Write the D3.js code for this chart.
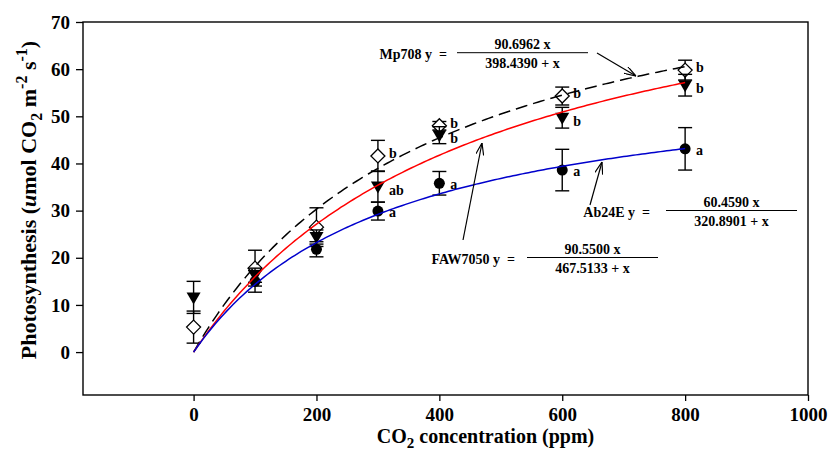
<!DOCTYPE html>
<html>
<head>
<meta charset="utf-8">
<script src="https://cdn.jsdelivr.net/npm/d3@7"></script>
<style>
  body { margin: 0; background: #fff; }
  text { font-family: "Liberation Serif", "Times New Roman", serif; font-weight: bold; }
</style>
</head>
<body>
<script>
// canvas size
const width = 829;
const height = 454;

// data
const concentrations = [0, 100, 200, 300, 400, 600, 800];
const mp708Mean = [5.3, 17.8, 26.5, 41.6, 48.0, 54.3, 59.8];
const mp708Err = [3.4, 3.8, 4.1, 3.3, 0.9, 1.9, 2.1];
const faw7050Mean = [11.6, 16.3, 24.4, 35.1, 46.0, 49.7, 56.6];
const faw7050Err = [3.4, 1.5, 1.5, 3.3, 1.8, 2.2, 2.3];
const ab24eMean = [null, 15.0, 21.8, 29.9, 35.8, 38.6, 43.1];
const ab24eErr = [null, 2.3, 1.6, 1.9, 2.5, 4.4, 4.5];
const mp708Letters = ['', '', '', 'b', 'b', 'b', 'b'];
const faw7050Letters = ['', '', '', 'ab', 'b', 'b', 'b'];
const ab24eLetters = ['', '', '', 'a', 'a', 'a', 'a'];

// fitted curves y = a x / (k + x)
const fitNames = ['Mp708', 'FAW7050', 'Ab24E'];
const fitA = [90.6962, 90.55, 60.459];
const fitK = [398.439, 467.5133, 320.8901];
const fitATexts = ['90.6962 x', '90.5500 x', '60.4590 x'];
const fitKTexts = ['398.4390 + x', '467.5133 + x', '320.8901 + x'];

const xTicks = [0, 200, 400, 600, 800, 1000];
const yTicks = [0, 10, 20, 30, 40, 50, 60, 70];

const margin = { left: 83, right: 21, top: 22, bottom: 59 };

const svg = d3
  .select('body')
  .append('svg')
  .attr('width', width)
  .attr('height', height);

const x = d3
  .scaleLinear()
  .domain([-180, 1000])
  .range([margin.left, width - margin.right]);

const y = d3
  .scaleLinear()
  .domain([-9.1, 70])
  .range([height - margin.bottom, margin.top]);

// axes
const xAxis = svg
  .append('g')
  .attr('transform', 'translate(0,' + (height - margin.bottom) + ')')
  .call(
    d3.axisBottom(x).tickValues(xTicks).tickFormat(d3.format('d')).tickSize(6).tickPadding(7)
  );

const yAxis = svg
  .append('g')
  .attr('transform', 'translate(' + margin.left + ',0)')
  .call(d3.axisLeft(y).tickValues(yTicks).tickSize(7).tickPadding(6));

[xAxis, yAxis].forEach(function(g) {
  g.select('.domain').remove();
  g.selectAll('line').attr('stroke', '#000').attr('stroke-width', 1.3);
  g.selectAll('text')
    .attr('fill', '#000')
    .style('font-size', '19px')
    .style('font-family', '"Liberation Serif", serif')
    .style('font-weight', 'bold');
});

// frame
svg
  .append('rect')
  .attr('x', margin.left)
  .attr('y', margin.top)
  .attr('width', width - margin.left - margin.right)
  .attr('height', height - margin.top - margin.bottom)
  .attr('fill', 'none')
  .attr('stroke', '#000')
  .attr('stroke-width', 1.4);

// axis titles
const xTitle = svg
  .append('text')
  .attr('x', (x(-180) + x(1000)) / 2 + 40)
  .attr('y', 443)
  .attr('text-anchor', 'middle')
  .style('font-size', '20px');
xTitle.append('tspan').text('CO');
xTitle.append('tspan').attr('dy', 5).style('font-size', '15px').text('2');
xTitle.append('tspan').attr('dy', -5).text(' concentration (ppm)');

const yTitle = svg
  .append('text')
  .attr('transform', 'translate(36,' + 200 + ') rotate(-90)')
  .attr('text-anchor', 'middle')
  .style('font-size', '22px');
yTitle.append('tspan').text('Photosynthesis (');
yTitle.append('tspan').style('font-style', 'italic').text('u');
yTitle.append('tspan').text('mol CO');
yTitle.append('tspan').attr('dy', 6).style('font-size', '16px').text('2');
yTitle.append('tspan').attr('dy', -6).text(' m');
yTitle.append('tspan').attr('dy', -9).style('font-size', '16px').text('-2');
yTitle.append('tspan').attr('dy', 9).text(' s');
yTitle.append('tspan').attr('dy', -9).style('font-size', '16px').text('-1');
yTitle.append('tspan').attr('dy', 9).text(')');

// series definitions
const series = [
  { mean: mp708Mean, err: mp708Err, letters: mp708Letters, shape: 'diamond', nudge: -2 },
  { mean: faw7050Mean, err: faw7050Err, letters: faw7050Letters, shape: 'triangle', nudge: 4 },
  { mean: ab24eMean, err: ab24eErr, letters: ab24eLetters, shape: 'circle', nudge: 2 }
];

const cap = 7;

series.forEach(function(s) {
  const pts = concentrations
    .map(function(c, i) {
      return { c: c, m: s.mean[i], e: s.err[i], l: s.letters[i] };
    })
    .filter(function(d) {
      return d.m !== null;
    });

  const g = svg.append('g');

  // error bars
  const bars = g
    .selectAll('.bar')
    .data(pts)
    .enter()
    .append('g')
    .attr('stroke', '#000')
    .attr('stroke-width', 1.4);
  bars
    .append('line')
    .attr('x1', d => x(d.c))
    .attr('x2', d => x(d.c))
    .attr('y1', d => y(d.m - d.e))
    .attr('y2', d => y(d.m + d.e));
  bars
    .append('line')
    .attr('x1', d => x(d.c) - cap)
    .attr('x2', d => x(d.c) + cap)
    .attr('y1', d => y(d.m + d.e))
    .attr('y2', d => y(d.m + d.e));
  bars
    .append('line')
    .attr('x1', d => x(d.c) - cap)
    .attr('x2', d => x(d.c) + cap)
    .attr('y1', d => y(d.m - d.e))
    .attr('y2', d => y(d.m - d.e));

  // markers
  const marks = g
    .selectAll('.mark')
    .data(pts)
    .enter()
    .append('path')
    .attr('transform', d => 'translate(' + x(d.c) + ',' + y(d.m) + ')');
  if (s.shape === 'diamond') {
    marks
      .attr('d', 'M0,-7L7,0L0,7L-7,0Z')
      .attr('fill', '#fff')
      .attr('stroke', '#000')
      .attr('stroke-width', 1.3);
  } else if (s.shape === 'triangle') {
    marks.attr('d', 'M-7,-5L7,-5L0,7Z').attr('fill', '#000');
  } else {
    marks.attr('d', d3.symbol(d3.symbolCircle, 95)()).attr('fill', '#000');
  }

  // significance letters
  g.selectAll('.letter')
    .data(pts)
    .enter()
    .append('text')
    .attr('x', d => x(d.c) + 11)
    .attr('y', d => y(d.m) + 4 + s.nudge)
    .style('font-size', '14px')
    .text(d => d.l);
});

// fitted curves
const curveX = d3.range(0, 801, 5);
const curveColors = ['#000', '#ff0000', '#0000cc'];
const curveDash = ['12,6', null, null];
fitA.forEach(function(a, i) {
  const line = d3
    .line()
    .x(d => x(d))
    .y(d => y((a * d) / (fitK[i] + d)));
  svg
    .append('path')
    .datum(curveX)
    .attr('d', line)
    .attr('fill', 'none')
    .attr('stroke', curveColors[i])
    .attr('stroke-width', 1.5)
    .attr('stroke-dasharray', curveDash[i]);
});

// equation labels
svg
  .append('defs')
  .append('marker')
  .attr('id', 'arrow')
  .attr('viewBox', '0 0 12 8')
  .attr('refX', 12)
  .attr('refY', 4)
  .attr('markerWidth', 12)
  .attr('markerHeight', 8)
  .attr('markerUnits', 'userSpaceOnUse')
  .attr('orient', 'auto')
  .append('path')
  .attr('d', 'M0,0L12,4L0,8')
  .attr('fill', 'none')
  .attr('stroke', '#000')
  .attr('stroke-width', 1.2);

const eqLabelEnd = [447, 515, 650];
const eqLineX = [[457, 588], [527, 658], [666, 797]];
const eqLineY = [52.7, 257.5, 210.5];
const arrows = [
  [597, 53, 636, 76],
  [463, 240, 482, 143],
  [590, 205, 602, 162]
];

fitNames.forEach(function(name, i) {
  const ly = eqLineY[i];
  const cx = (eqLineX[i][0] + eqLineX[i][1]) / 2;
  svg
    .append('text')
    .attr('x', eqLabelEnd[i])
    .attr('y', ly + 6)
    .attr('text-anchor', 'end')
    .style('font-size', '14px')
    .style('white-space', 'pre')
    .text(name + ' y  =');
  svg
    .append('line')
    .attr('x1', eqLineX[i][0])
    .attr('x2', eqLineX[i][1])
    .attr('y1', ly)
    .attr('y2', ly)
    .attr('stroke', '#000')
    .attr('stroke-width', 1);
  svg
    .append('text')
    .attr('x', cx)
    .attr('y', ly - 4)
    .attr('text-anchor', 'middle')
    .style('font-size', '14px')
    .text(fitATexts[i]);
  svg
    .append('text')
    .attr('x', cx)
    .attr('y', ly + 15)
    .attr('text-anchor', 'middle')
    .style('font-size', '14px')
    .text(fitKTexts[i]);
  svg
    .append('line')
    .attr('x1', arrows[i][0])
    .attr('y1', arrows[i][1])
    .attr('x2', arrows[i][2])
    .attr('y2', arrows[i][3])
    .attr('stroke', '#000')
    .attr('stroke-width', 1.2)
    .attr('marker-end', 'url(#arrow)');
});
</script>
</body>
</html>
